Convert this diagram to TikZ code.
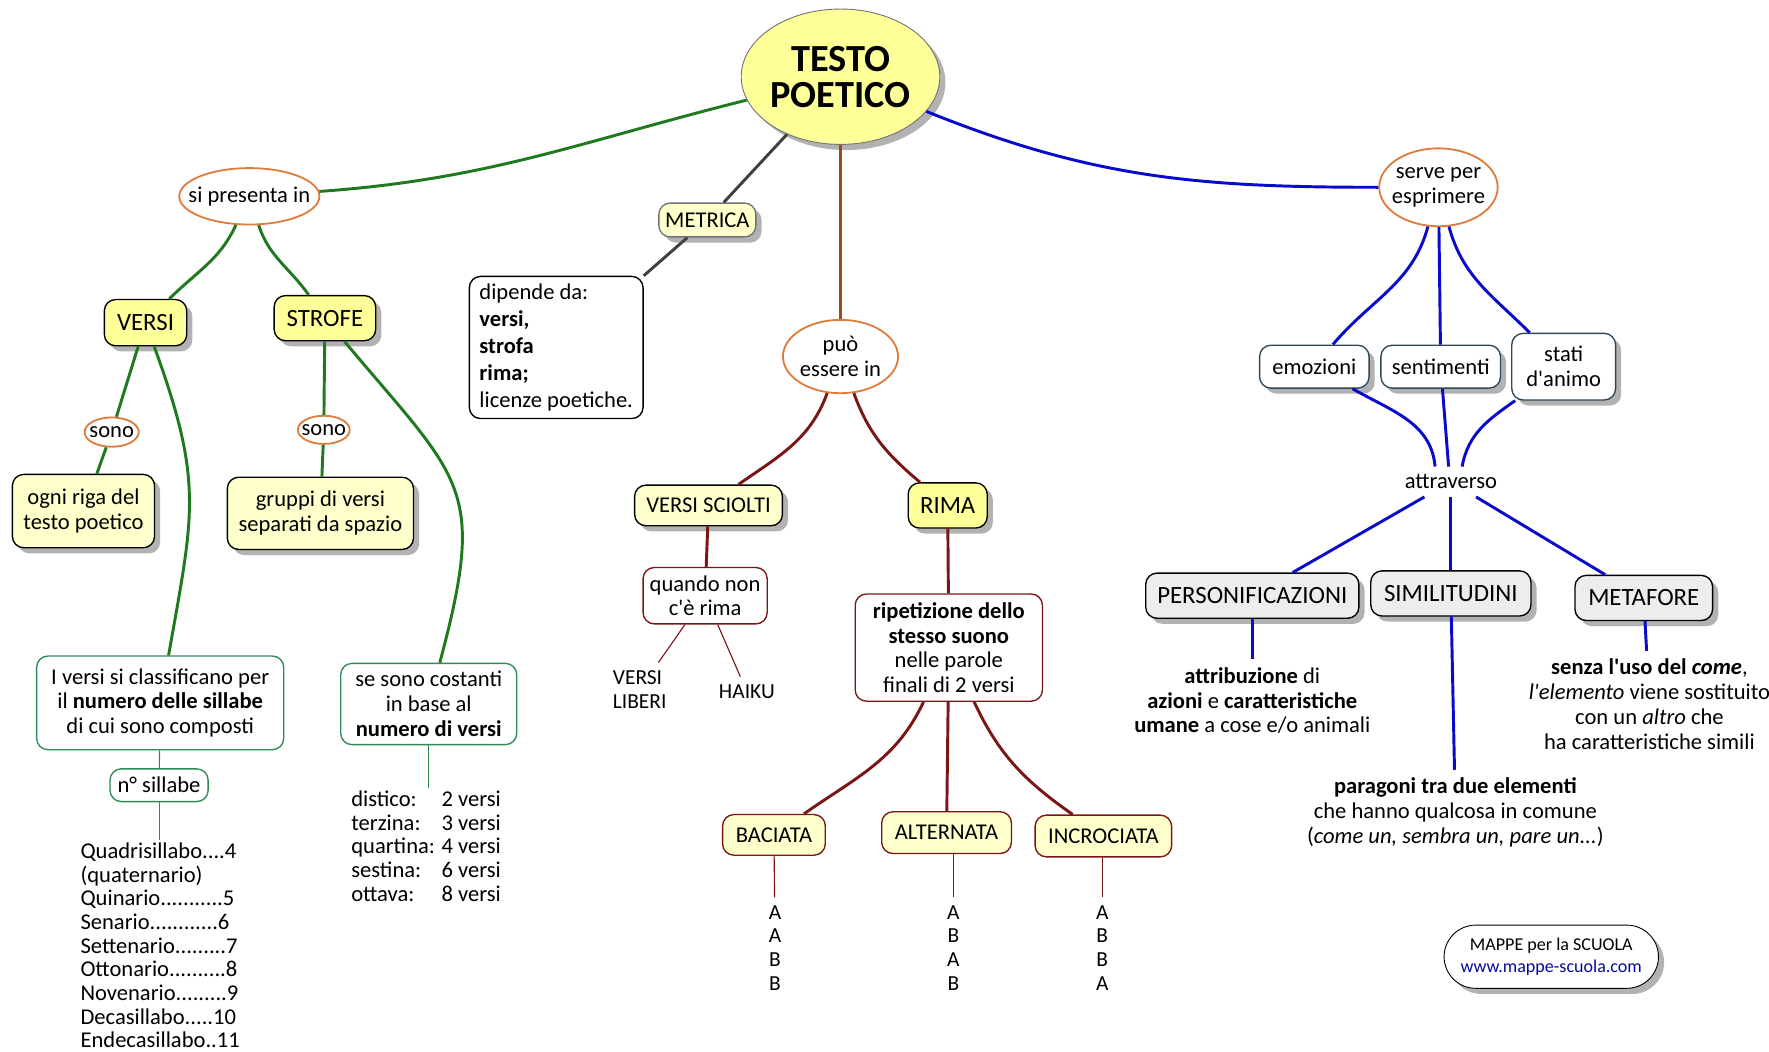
\documentclass[tikz,border=0pt]{standalone}
\usepackage{fontspec}
\setmainfont{Carlito}
\usetikzlibrary{shapes.geometric,shadows}

\definecolor{giallo}{HTML}{FFFF99}
\definecolor{paglia}{HTML}{FFFFCC}
\definecolor{verde}{HTML}{1F7A1F}
\definecolor{bordoverde}{HTML}{2E8B57}
\definecolor{blu}{HTML}{0A0ACC}
\definecolor{bordoblu}{HTML}{2F4858}
\definecolor{bordeaux}{HTML}{7A1616}
\definecolor{ruggine}{HTML}{9C4A1A}
\definecolor{arancio}{HTML}{E07B39}
\definecolor{grigino}{HTML}{EDEDED}

\newcommand{\apice}{\textquotesingle}

\tikzset{
  every node/.style={font=\fontsize{10}{11}\selectfont},
  ombra/.style={drop shadow={opacity=.6,shadow xshift=2.5pt,shadow yshift=-2.5pt}},
  box/.style={draw,rounded corners=5pt,align=center,inner sep=2pt,line width=.6pt},
  ovale/.style={draw=arancio,ellipse,fill=white,align=center,inner xsep=-3pt,inner ysep=0pt,line width=.8pt},
  ramo/.style={line width=1.3pt},
  filo/.style={line width=.5pt},
  titolo/.style={font=\fontsize{11}{12}\selectfont},
}

\begin{document}
\begin{tikzpicture}[x=0.5pt,y=-0.5pt]
    \useasboundingbox[fill=white] (0,0) rectangle (1568,932);

    \node[ellipse,draw=black!55,fill=giallo,ombra,minimum width=88pt,minimum height=60pt,align=center,inner sep=0pt,font=\fontsize{17}{16}\selectfont\bfseries] (testo) at (745,68) {TESTO\\POETICO};
    \node[ovale,inner xsep=-5pt,minimum width=61.5pt,minimum height=25pt] (presenta) at (221,174) {si presenta in};
    \node[box,fill=paglia,draw=black!55,ombra,minimum width=43pt,minimum height=15pt] (metrica) at (627,195) {METRICA};
    \node[box,fill=white,align=left,minimum width=77pt,minimum height=63pt,font=\fontsize{10}{12}\selectfont] (dipende) at (493,308) {dipende da:\\\textbf{versi,}\\\textbf{strofa}\\\textbf{rima;}\\licenze poetiche.};
    \node[ovale,minimum width=51pt,minimum height=32.5pt] (puo) at (745,316) {può\\essere in};
    \node[ovale,minimum width=52.5pt,minimum height=34.5pt] (serve) at (1275,166) {serve per\\esprimere};

    \node[box,fill=giallo,ombra,titolo,minimum width=36.5pt,minimum height=20.5pt] (versi) at (129,286) {VERSI};
    \node[box,fill=giallo,ombra,titolo,minimum width=45pt,minimum height=20pt] (strofe) at (288,282) {STROFE};
    \node[ovale,inner ysep=-2pt,minimum width=24pt,minimum height=13pt] (sono1) at (99,383) {sono};
    \node[ovale,inner ysep=-2pt,minimum width=23pt,minimum height=12.5pt] (sono2) at (287,381) {sono};
    \node[box,fill=paglia,ombra,minimum width=63pt,minimum height=32.5pt] (riga) at (74,453) {ogni riga del\\testo poetico};
    \node[box,fill=paglia,ombra,minimum width=82.5pt,minimum height=32pt] (gruppi) at (284,455) {gruppi di versi\\separati da spazio};
    \node[box,draw=bordoverde,fill=white,minimum width=109.5pt,minimum height=41.5pt] (classi) at (142,623) {I versi si classificano per\\il \textbf{numero delle sillabe}\\di cui sono composti};
    \node[box,draw=bordoverde,fill=white,minimum width=43.5pt,minimum height=14.5pt] (nsill) at (141,696) {n° sillabe};
    \node[box,draw=bordoverde,fill=white,minimum width=78pt,minimum height=36pt] (costanti) at (380,624) {se sono costanti\\in base al\\\textbf{numero di versi}};
    \node[align=left,anchor=west,inner sep=1pt,font=\fontsize{10}{10.5}\selectfont] (sillabe) at (69,838) {Quadrisillabo....4\\(quaternario)\\Quinario...........5\\Senario............6\\Settenario.........7\\Ottonario..........8\\Novenario.........9\\Decasillabo.....10\\Endecasillabo..11};
    \node[align=left,anchor=west,inner sep=1pt,font=\fontsize{10}{10.5}\selectfont] (tipistrofe) at (309,750) {\makebox[40pt][l]{distico:}2 versi\\\makebox[40pt][l]{terzina:}3 versi\\\makebox[40pt][l]{quartina:}4 versi\\\makebox[40pt][l]{sestina:}6 versi\\\makebox[40pt][l]{ottava:}8 versi};

    \node[box,fill=paglia,ombra,minimum width=65.5pt,minimum height=18pt] (sciolti) at (628,448) {VERSI SCIOLTI};
    \node[box,fill=giallo,ombra,titolo,minimum width=35pt,minimum height=20pt] (rima) at (840,448) {RIMA};
    \node[box,draw=bordeaux,fill=white,minimum width=55pt,minimum height=25pt] (quando) at (625,528) {quando non\\c\apice è rima};
    \node[align=left,font=\fontsize{9.5}{10.5}\selectfont] (liberi) at (567,611) {VERSI\\LIBERI};
    \node[font=\fontsize{9.5}{10.5}\selectfont] (haiku) at (662,613) {HAIKU};
    \node[box,draw=bordeaux,fill=white,minimum width=83pt,minimum height=47.5pt] (ripet) at (841,574) {\textbf{ripetizione dello}\\\textbf{stesso suono}\\nelle parole\\finali di 2 versi};
    \node[box,draw=bordeaux,fill=paglia,minimum width=45.5pt,minimum height=18pt] (baciata) at (686,740) {BACIATA};
    \node[box,draw=bordeaux,fill=paglia,minimum width=57.5pt,minimum height=18.5pt] (alternata) at (839,738) {ALTERNATA};
    \node[box,draw=bordeaux,fill=paglia,minimum width=60.5pt,minimum height=18.5pt] (incrociata) at (978,741) {INCROCIATA};
    \node[align=center,font=\fontsize{9.5}{10.5}\selectfont] (aabb) at (687,840) {A\\A\\B\\B};
    \node[align=center,font=\fontsize{9.5}{10.5}\selectfont] (abab) at (845,840) {A\\B\\A\\B};
    \node[align=center,font=\fontsize{9.5}{10.5}\selectfont] (abba) at (977,840) {A\\B\\B\\A};

    \node[box,draw=bordoblu,fill=white,ombra,minimum width=48.5pt,minimum height=19pt] (emozioni) at (1165,325) {emozioni};
    \node[box,draw=bordoblu,fill=white,ombra,minimum width=53pt,minimum height=19pt] (sentimenti) at (1277,325) {sentimenti};
    \node[box,draw=bordoblu,fill=white,ombra,minimum width=46pt,minimum height=29.5pt] (stati) at (1386,325) {stati\\d\apice animo};
    \node (attraverso) at (1286,427) {attraverso};
    \node[box,fill=grigino,ombra,titolo,minimum width=94.5pt,minimum height=20pt] (personif) at (1110,528) {PERSONIFICAZIONI};
    \node[box,fill=grigino,ombra,titolo,minimum width=71pt,minimum height=20pt] (similit) at (1286,526) {SIMILITUDINI};
    \node[box,fill=grigino,ombra,titolo,minimum width=61pt,minimum height=20pt] (metafore) at (1457,530) {METAFORE};
    \node[align=center] (attrib) at (1110,621) {\textbf{attribuzione} di\\\textbf{azioni} e \textbf{caratteristiche}\\\textbf{umane} a cose e/o animali};
    \node[align=center] (parag) at (1290,720) {\textbf{paragoni tra due elementi}\\che hanno qualcosa in comune\\(\textit{come un, sembra un, pare un...})};
    \node[align=center] (senza) at (1462,624) {\textbf{senza l\apice uso del \textit{come}},\\\textit{l\apice elemento} viene sostituito\\con un \textit{altro} che\\ha caratteristiche simili};

    \node[draw,fill=white,ombra,rounded corners=14pt,minimum width=95pt,minimum height=28pt,align=center,font=\fontsize{8}{10}\selectfont] (mappe) at (1375,848) {MAPPE per la SCUOLA\\\textcolor{blu!80!black}{www.mappe-scuola.com}};

    \draw[verde,ramo] (testo) to[out=194,in=4] (presenta);
    \draw[black!75,ramo] (testo) -- (metrica);
    \draw[black!75,ramo] (metrica) -- (dipende.north east);
    \draw[ruggine,ramo] (testo) -- (puo);
    \draw[blu,ramo] (testo) to[out=-22,in=180] (serve);

    \draw[verde,ramo] (presenta) to[out=-115,in=45] (versi);
    \draw[verde,ramo] (presenta) to[out=-72,in=125] (strofe);
    \draw[verde,ramo] (versi) -- (sono1);
    \draw[verde,ramo] (sono1) -- (riga);
    \draw[verde,ramo] (versi) to[out=-70,in=80,looseness=1.2] (classi);
    \draw[verde,ramo] (strofe) -- (sono2);
    \draw[verde,ramo] (sono2) -- (gruppi);
    \draw[verde,ramo] (strofe) to[out=-50,in=75,looseness=1.4] (costanti);
    \draw[bordoverde,filo] (classi) -- (nsill);
    \draw[bordoverde,filo] (nsill) -- (nsill |- sillabe.north);
    \draw[bordoverde,filo] (costanti) -- (costanti |- tipistrofe.north);

    \draw[bordeaux,ramo] (puo) to[out=-110,in=35] (sciolti);
    \draw[bordeaux,ramo] (puo) to[out=-70,in=140] (rima);
    \draw[bordeaux,ramo] (sciolti) -- (quando);
    \draw[bordeaux,filo] (quando) -- (liberi);
    \draw[bordeaux,filo] (quando) -- (haiku);
    \draw[bordeaux,ramo] (rima) -- (ripet);
    \draw[bordeaux,ramo] (ripet) to[out=-115,in=35] (baciata);
    \draw[bordeaux,ramo] (ripet) -- (alternata);
    \draw[bordeaux,ramo] (ripet) to[out=-65,in=145] (incrociata);
    \draw[bordeaux,filo] (baciata) -- (aabb);
    \draw[bordeaux,filo] (alternata.south -| abab) -- (abab);
    \draw[bordeaux,filo] (incrociata.south -| abba) -- (abba);

    \draw[blu,ramo] (serve) to[out=-105,in=50] (emozioni);
    \draw[blu,ramo] (serve) -- (sentimenti);
    \draw[blu,ramo] (serve) to[out=-75,in=135] (stati);
    \draw[blu,ramo] (emozioni) to[out=-30,in=95] ([xshift=-7pt]attraverso.north);
    \draw[blu,ramo] (sentimenti) -- ([xshift=-1pt]attraverso.north);
    \draw[blu,ramo] (stati) to[out=-145,in=80] ([xshift=5pt]attraverso.north);
    \draw[blu,ramo] (attraverso) -- (personif);
    \draw[blu,ramo] (attraverso) -- (similit);
    \draw[blu,ramo] (attraverso) -- (metafore);
    \draw[blu,ramo] (personif) -- (attrib);
    \draw[blu,ramo] (similit) -- (parag);
    \draw[blu,ramo] (metafore) -- (senza);
\end{tikzpicture}
\end{document}
